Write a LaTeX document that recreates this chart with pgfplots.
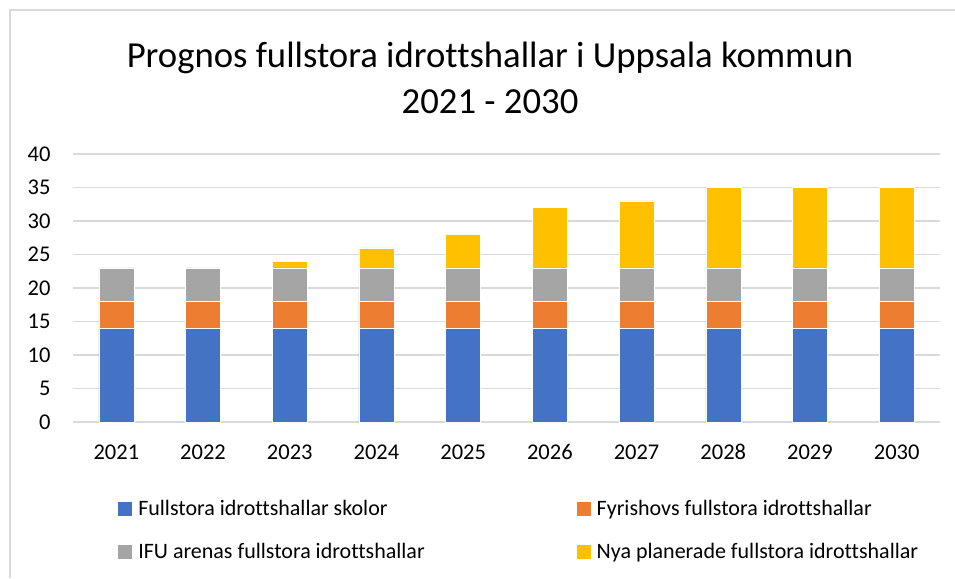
\documentclass[border=0pt]{standalone}
\usepackage{pgfplots}
\pgfplotsset{compat=1.18}
\usepackage{fontspec}
\setmainfont{Carlito}[Ligatures=NoCommon]

\definecolor{cblue}{HTML}{4472C4}
\definecolor{corange}{HTML}{ED7D31}
\definecolor{cgray}{HTML}{A5A5A5}
\definecolor{cyellow}{HTML}{FFC000}
\definecolor{gridc}{HTML}{D9D9D9}

\begin{document}
\begin{tikzpicture}[x=1pt,y=1pt]
\useasboundingbox (0,0) rectangle (955,578);
\draw[gridc, line width=1.2pt] (10,0) -- (10,568) -- (955,568);
\node[font=\fontsize{36.7}{40}\selectfont] at (490,520) {Prognos fullstora idrottshallar i Uppsala kommun};
\node[font=\fontsize{36.7}{40}\selectfont] at (490,476) {2021 - 2030};

\begin{axis}[
    at={(73pt,156pt)}, anchor=south west,
    scale only axis,
    width=867pt, height=268pt,
    ybar stacked,
    bar width=35pt,
    xmin=-0.5, xmax=9.5,
    ymin=0, ymax=40,
    xtick={0,...,9},
    xticklabels={2021,2022,2023,2024,2025,2026,2027,2028,2029,2030},
    ytick={0,5,...,40},
    major tick length=0pt,
    axis lines*=left,
    y axis line style={draw=none},
    x axis line style={gridc, line width=1.2pt, -},
    ymajorgrids,
    grid style={gridc, line width=1.2pt},
    /pgf/number format/assume math mode=true,
    tick label style={font=\fontsize{22.5}{24}\selectfont},
    yticklabel style={xshift=-19pt},
    xticklabel style={yshift=-19pt},
    legend columns=2,
    legend cell align=left,
    legend style={
        draw=none, fill=none, inner sep=0pt,
        at={(0.052,-0.285)}, anchor=north west,
        font=\fontsize{22}{24}\selectfont,
        row sep=22pt,
        /tikz/every odd column/.append style={column sep=4pt},
        /tikz/every even column/.append style={column sep=150pt},
    },
    legend image code/.code={\fill[#1,draw=none] (0pt,-7pt) rectangle (14pt,7pt);},
]
\addplot[fill=cblue, draw=white, line width=0.5pt] coordinates {
    (0,14) (1,14) (2,14) (3,14) (4,14) (5,14) (6,14) (7,14) (8,14) (9,14)
};
\addlegendentry{Fullstora idrottshallar skolor}
\addplot[fill=corange, draw=white, line width=0.5pt] coordinates {
    (0,4) (1,4) (2,4) (3,4) (4,4) (5,4) (6,4) (7,4) (8,4) (9,4)
};
\addlegendentry{Fyrishovs fullstora idrottshallar}
\addplot[fill=cgray, draw=white, line width=0.5pt] coordinates {
    (0,5) (1,5) (2,5) (3,5) (4,5) (5,5) (6,5) (7,5) (8,5) (9,5)
};
\addlegendentry{IFU arenas fullstora idrottshallar}
\addplot[fill=cyellow, draw=white, line width=0.5pt] coordinates {
    (0,0) (1,0) (2,1) (3,3) (4,5) (5,9) (6,10) (7,12) (8,12) (9,12)
};
\addlegendentry{Nya planerade fullstora idrottshallar}
\end{axis}
\end{tikzpicture}
\end{document}
